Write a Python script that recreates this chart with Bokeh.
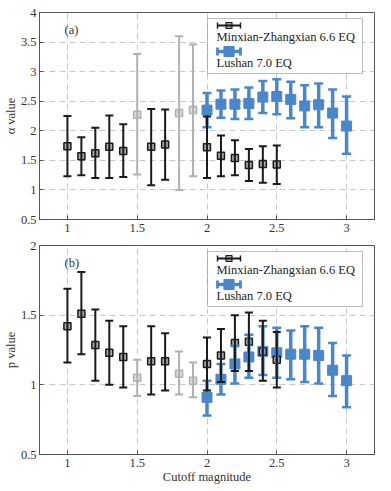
import math
from bokeh.plotting import figure
from bokeh.layouts import column
from bokeh.models import (ColumnDataSource, Whisker, TeeHead, Label, BoxAnnotation,
                          FixedTicker, Range1d)
from bokeh.embed import file_html
from bokeh.resources import INLINE

FONT = "Liberation Serif"

# ---------------- data ----------------
mag_mz = [1.0, 1.1, 1.2, 1.3, 1.4, 1.5, 1.6, 1.7, 1.8, 1.9, 2.0, 2.1, 2.2, 2.3, 2.4, 2.5]
excluded_mz = [1.5, 1.8, 1.9]          # drawn in light gray

alpha_mz = [1.74, 1.57, 1.62, 1.73, 1.66, 2.27, 1.73, 1.77, 2.30, 2.35, 1.72, 1.58, 1.54, 1.42, 1.44, 1.43]
alpha_mz_hi = [2.25, 1.89, 2.05, 2.26, 2.11, 3.30, 2.37, 2.36, 3.60, 3.46, 2.24, 1.92, 1.84, 1.69, 1.74, 1.75]
alpha_mz_lo = [1.23, 1.25, 1.20, 1.20, 1.22, 1.26, 1.08, 1.17, 1.00, 1.23, 1.20, 1.23, 1.25, 1.15, 1.12, 1.10]

p_mz = [1.42, 1.51, 1.285, 1.23, 1.20, 1.05, 1.17, 1.17, 1.08, 1.03, 1.15, 1.21, 1.30, 1.31, 1.24, 1.18]
p_mz_hi = [1.69, 1.81, 1.54, 1.46, 1.42, 1.18, 1.42, 1.37, 1.24, 1.16, 1.34, 1.40, 1.50, 1.52, 1.46, 1.38]
p_mz_lo = [1.16, 1.22, 1.03, 1.00, 0.98, 0.92, 0.93, 0.96, 0.93, 0.91, 0.96, 1.02, 1.10, 1.10, 1.03, 0.98]

mag_ls = [2.0, 2.1, 2.2, 2.3, 2.4, 2.5, 2.6, 2.7, 2.8, 2.9, 3.0]
alpha_ls = [2.35, 2.45, 2.45, 2.46, 2.57, 2.58, 2.53, 2.42, 2.44, 2.30, 2.08]
alpha_ls_hi = [2.64, 2.68, 2.70, 2.73, 2.84, 2.87, 2.83, 2.77, 2.80, 2.70, 2.58]
alpha_ls_lo = [2.06, 2.22, 2.20, 2.20, 2.30, 2.28, 2.21, 2.06, 2.06, 1.88, 1.61]

p_ls = [0.91, 1.04, 1.15, 1.20, 1.24, 1.23, 1.22, 1.22, 1.21, 1.105, 1.03]
p_ls_hi = [1.03, 1.15, 1.28, 1.36, 1.42, 1.41, 1.39, 1.42, 1.41, 1.30, 1.21]
p_ls_lo = [0.78, 0.93, 1.01, 1.05, 1.07, 1.05, 1.04, 1.02, 1.01, 0.92, 0.84]

x_ticks = [1, 1.5, 2, 2.5, 3]
alpha_ticks = [0.5, 1, 1.5, 2, 2.5, 3, 3.5, 4]
p_ticks = [0.5, 1, 1.5, 2]

series_names = ["Minxian-Zhangxian 6.6 EQ", "Lushan 7.0 EQ"]
x_title = "Cutoff magnitude"

# ---------------- style ----------------
BLACK = "#1a1a1a"
GRAY_LINE = "#b0b0b0"
GRAY_FILL = "#dcdcdc"
BLUE = "#4a86c8"
AXIS = "#555555"
TXT = "#333333"
FS = "12.5px"

FRAME_W = 335
X0, X1 = 0.8, 3.2


def fmt(v):
    return ("%g" % v)


def style_axis(ax, ticks, standoff):
    ax.ticker = FixedTicker(ticks=ticks)
    ax.major_tick_in = 4
    ax.major_tick_out = 0
    ax.minor_tick_in = 0
    ax.minor_tick_out = 0
    ax.axis_line_color = AXIS
    ax.major_tick_line_color = AXIS
    ax.major_label_overrides = {t: fmt(t) for t in ticks}
    ax.major_label_text_font = FONT
    ax.major_label_text_font_size = FS
    ax.major_label_text_color = TXT
    ax.major_label_standoff = standoff
    ax.axis_label_text_font = FONT
    ax.axis_label_text_font_size = FS
    ax.axis_label_text_font_style = "normal"
    ax.axis_label_text_color = TXT
    ax.axis_label_standoff = 0


def make_panel(ylo, yhi, yticks, frame_h, top_b, bot_b, mz, ls, tag, ylabel, xlabel=None):
    p = figure(frame_width=FRAME_W, frame_height=frame_h,
               x_range=Range1d(X0, X1), y_range=Range1d(ylo, yhi),
               output_backend="svg", toolbar_location=None,
               min_border_left=32, min_border_right=8,
               min_border_top=top_b, min_border_bottom=bot_b,
               background_fill_color="white", border_fill_color="white")
    p.outline_line_color = AXIS
    p.outline_line_alpha = 1.0

    def px(dx, dy):
        """frame-relative pixel offset -> data coordinates"""
        return (X0 + dx / FRAME_W * (X1 - X0), yhi - dy / frame_h * (yhi - ylo))

    style_axis(p.xaxis[0], x_ticks, 4)
    style_axis(p.yaxis[0], yticks, 3)
    p.yaxis[0].axis_label = ylabel
    if xlabel:
        p.xaxis[0].axis_label = xlabel

    # grid
    p.xgrid.ticker = FixedTicker(ticks=x_ticks)
    p.ygrid.ticker = FixedTicker(ticks=yticks)
    for g in (p.xgrid, p.ygrid):
        g.grid_line_color = "#c8c8c8"
        g.grid_line_dash = "6 4"
        g.grid_line_width = 1

    # --- Lushan (blue) ---
    c, u, l = ls
    src_ls = ColumnDataSource(dict(x=mag_ls, y=c, u=u, l=l))
    w = Whisker(source=src_ls, base="x", upper="u", lower="l", dimension="height",
                line_color=BLUE, line_width=3.5, level="glyph",
                upper_head=TeeHead(size=9, line_color=BLUE, line_width=2.5),
                lower_head=TeeHead(size=9, line_color=BLUE, line_width=2.5))
    p.add_layout(w)
    p.scatter("x", "y", source=src_ls, marker="square", size=10,
              fill_color=BLUE, line_color=BLUE, line_width=1)

    # --- Minxian-Zhangxian (black / gray) ---
    c, u, l = mz
    keep = [i for i, m in enumerate(mag_mz) if m not in excluded_mz]
    grey = [i for i, m in enumerate(mag_mz) if m in excluded_mz]
    for idx, lc, fc in ((grey, GRAY_LINE, GRAY_FILL), (keep, BLACK, "#a8a8a8")):
        src = ColumnDataSource(dict(x=[mag_mz[i] for i in idx], y=[c[i] for i in idx],
                                    u=[u[i] for i in idx], l=[l[i] for i in idx]))
        w = Whisker(source=src, base="x", upper="u", lower="l", dimension="height",
                    line_color=lc, line_width=2, level="glyph",
                    upper_head=TeeHead(size=8, line_color=lc, line_width=2),
                    lower_head=TeeHead(size=8, line_color=lc, line_width=2))
        p.add_layout(w)
        p.scatter("x", "y", source=src, marker="square", size=7,
                  fill_color=fc, line_color=lc, line_width=1.5)

    # --- panel tag ---
    tx, ty = px(25, 17)
    p.add_layout(Label(x=tx, y=ty, text=tag, text_font=FONT, text_font_size=FS,
                       text_color=TXT, text_baseline="middle", text_align="left"))

    # --- legend (MATLAB-like: symbol row above text row) ---
    bl, bt = px(168, 6)
    br, bb = px(323, 61)
    p.add_layout(BoxAnnotation(left=bl, right=br, top=bt, bottom=bb,
                               fill_color="white", fill_alpha=1.0,
                               line_color="#222222", line_width=1, level="annotation"))
    rows = [(13, 24.5, BLACK, 1.8, 6, series_names[0], "#a8a8a8", 6),
            (39, 50.5, BLUE, 3.5, 8, series_names[1], BLUE, 10)]
    for gy, ty_, col, lw, hs, name, fc, ms in rows:
        xa, yg = px(178, gy)
        xb, _ = px(201, gy)
        lsrc = ColumnDataSource(dict(y=[yg], a=[xa], b=[xb], xm=[(xa + xb) / 2]))
        p.add_layout(Whisker(source=lsrc, base="y", upper="b", lower="a",
                             dimension="width", line_color=col, line_width=lw,
                             level="overlay",
                             upper_head=TeeHead(size=hs, line_color=col, line_width=lw * 0.8),
                             lower_head=TeeHead(size=hs, line_color=col, line_width=lw * 0.8)))
        r = p.scatter("xm", "y", source=lsrc, marker="square", size=ms,
                      fill_color=fc, line_color=col, line_width=1.2)
        r.level = "overlay"
        lx2, ly2 = px(177, ty_)
        p.add_layout(Label(x=lx2, y=ly2, text=name, text_font=FONT, text_font_size=FS,
                           text_color="#222222", text_baseline="middle",
                           text_align="left", level="overlay"))
    return p


p1 = make_panel(0.5, 4.0, alpha_ticks, 207, 12, 18,
                (alpha_mz, alpha_mz_hi, alpha_mz_lo),
                (alpha_ls, alpha_ls_hi, alpha_ls_lo), "(a)", "α value")
p2 = make_panel(0.5, 2.0, p_ticks, 209, 8, 30,
                (p_mz, p_mz_hi, p_mz_lo),
                (p_ls, p_ls_hi, p_ls_lo), "(b)", "p value", xlabel=x_title)

layout = column(p1, p2, spacing=0)
open("out.html", "w").write(file_html(layout, INLINE))
